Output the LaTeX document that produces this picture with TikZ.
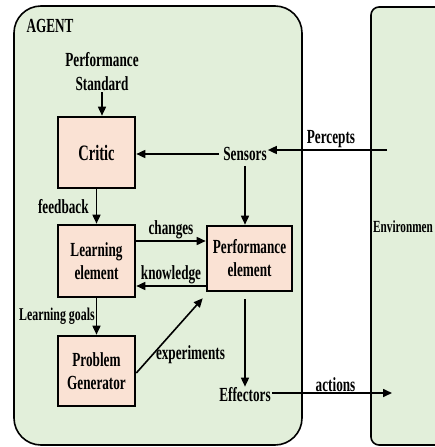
\documentclass[tikz,border=0pt]{standalone}
\usepackage{fontspec}
\setmainfont{Liberation Serif}[FakeStretch=0.66]
\usetikzlibrary{arrows.meta, positioning, calc}
\definecolor{agentcolor}{RGB}{226,239,218}
\definecolor{boxcolor}{RGB}{250,226,212}

\begin{document}
\begin{tikzpicture}[x=1pt, y=-1pt,
    every node/.style={font=\fontsize{20}{23}\selectfont\bfseries, align=center, inner sep=1pt},
    unitbox/.style={rectangle, draw, line width=2.6pt, fill=boxcolor, minimum width=77pt, minimum height=71pt},
    flow/.style={line width=1.6pt, -{Triangle[length=9pt, width=8pt]}},
    frame/.style={draw, line width=1.6pt, fill=agentcolor}]
    \useasboundingbox (0,0) rectangle (435,447);
    \clip (0,0) rectangle (435,447);

    % Agent and environment frames
    \draw[frame, rounded corners=27pt] (14,6) rectangle (302,445);
    \draw[frame, rounded corners=8pt] (371,7) rectangle (470,445);
    \node[anchor=west, font=\fontsize{17}{19}\selectfont\bfseries] (env) at (372,227) {Environmen};
    \node (agent) at (50,26) {AGENT};

    % Agent parts
    \node[font=\fontsize{20}{24}\selectfont\bfseries] (perfstd) at (102,72) {Performance\\Standard};
    \node[unitbox, font=\fontsize{22}{24}\selectfont\bfseries] (critic) at (96.5,152.5) {Critic};
    \node[unitbox, minimum height=72pt] (learn) at (96.5,261) {Learning\\element};
    \node[unitbox, minimum height=70pt] (problem) at (96.5,371) {Problem\\Generator};
    \node[unitbox, minimum width=85pt, minimum height=65pt] (perf) at (249.5,258.5) {Performance\\element};
    \node (sensors) at (245,154) {Sensors};
    \node (effectors) at (245,395) {Effectors};
    \coordinate (percin) at (387,150);
    \coordinate (actout) at (392,393);

    % Connecting arrows
    \draw[flow] (perfstd) -- (perfstd |- critic.north);
    \draw[flow] (critic) -- (learn) node[midway, left=6pt] {feedback};
    \draw[flow] (learn) -- (problem) node[midway, left] {\fontsize{18}{20}\selectfont Learning goals};
    \draw[flow] ([yshift=20pt]learn.east) -- ([yshift=20pt]learn.east -| perf.west) node[midway, above] {changes};
    \draw[flow] ([yshift=-25pt]learn.east -| perf.west) -- ([yshift=-25pt]learn.east) node[midway, above] {knowledge};
    \draw[flow] ([yshift=-2pt]problem.east) -- ([xshift=-3pt, yshift=-6pt]perf.south west) node[pos=0.24, right=2pt] {experiments};
    \draw[flow] ([xshift=-3pt]sensors.west) -- (critic.east |- sensors.west);
    \draw[flow] (percin) -- (sensors.east |- percin) node[pos=0.47, above] {Percepts};
    \draw[flow] ([yshift=-4pt]sensors.south) -- (sensors.south |- perf.north);
    \draw[flow] ([yshift=-7pt]perf.south -| effectors) -- (effectors.north);
    \draw[flow] (effectors.east |- actout) -- (actout) node[pos=0.53, above] {actions};
\end{tikzpicture}
\end{document}
